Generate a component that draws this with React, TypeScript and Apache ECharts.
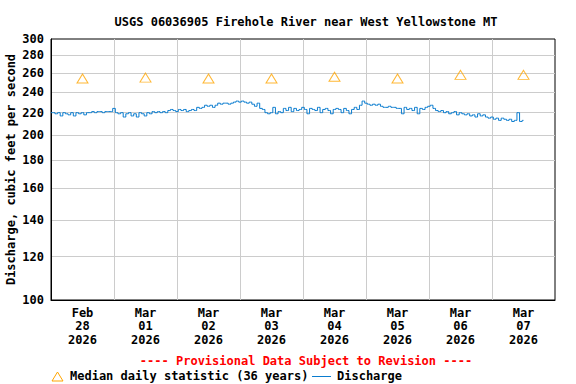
import React, { useEffect, useRef } from "react";
import * as echarts from "echarts";

const TITLE = "USGS 06036905 Firehole River near West Yellowstone MT";
const Y_NAME = "Discharge, cubic feet per second";
const PROVISIONAL = "---- Provisional Data Subject to Revision ----";
const LEGEND_MEDIAN = "Median daily statistic (36 years)";
const LEGEND_DISCHARGE = "Discharge";

const dayLabels = [
  "Feb\n28\n2026",
  "Mar\n01\n2026",
  "Mar\n02\n2026",
  "Mar\n03\n2026",
  "Mar\n04\n2026",
  "Mar\n05\n2026",
  "Mar\n06\n2026",
  "Mar\n07\n2026",
];

// median daily statistic, one per day (cfs)
const medianValues = [254, 255, 254, 254, 256, 254, 258, 258];

// hourly discharge from Feb 28 00:00 (cfs)
const discharge = [
  220, 220, 219, 220, 217, 220, 219, 218, 220, 217, 220, 219, 220, 218, 220, 220, 221, 220, 221, 221, 220, 221, 221, 221,
  224, 220, 219, 220, 216, 219, 220, 217, 219, 216, 220, 219, 217, 220, 219, 221, 220, 221, 220, 221, 220, 222, 223, 222,
  221, 223, 222, 223, 221, 222, 223, 222, 225, 224, 225, 227, 226, 227, 225, 227, 229, 228, 229, 229, 228, 229, 230, 231,
  230, 231, 230, 229, 230, 228, 226, 229, 224, 223, 220, 219, 220, 225, 219, 221, 220, 224, 222, 225, 221, 224, 222, 223,
  225, 223, 219, 224, 223, 222, 225, 220, 223, 224, 222, 219, 223, 224, 223, 220, 224, 222, 219, 223, 225, 223, 227, 231,
  229, 228, 227, 228, 227, 228, 226, 225, 225, 226, 225, 225, 224, 224, 219, 225, 223, 224, 222, 225, 219, 224, 223, 225,
  226, 227, 224, 222, 221, 222, 220, 221, 219, 220, 221, 218, 220, 219, 218, 219, 217, 218, 216, 219, 217, 218, 216, 215,
  216, 214, 215, 213, 215, 214, 213, 214, 212, 213, 220, 212, 213,
];

const yTicks = [100, 120, 140, 160, 180, 200, 220, 240, 260, 280, 300];
const HOURS_PER_DAY = 24;

const FONT = "'DejaVu Sans Mono', monospace";
const GRID_COLOR = "#cccccc";
const LINE_COLOR = "#0a7ccf";
const MEDIAN_COLOR = "#ffa500";

export default function App() {
  const ref = useRef<HTMLDivElement>(null);

  useEffect(() => {
    if (!ref.current) return;
    const chart = echarts.init(ref.current, undefined, { renderer: "svg" });
    const textStyle = { fontFamily: FONT, fontWeight: "bold" as const, fontSize: 12, color: "#000" };
    const nDays = dayLabels.length;

    chart.setOption({
      animation: false,
      backgroundColor: "#fff",
      grid: {
        left: 51,
        right: 21,
        top: 39,
        bottom: 84,
        containLabel: false,
        outerBoundsMode: "none",
        show: true,
        borderColor: "#000",
        borderWidth: 1,
        backgroundColor: "transparent",
      },
      xAxis: [
        {
          type: "value",
          min: 0,
          max: nDays * HOURS_PER_DAY,
          interval: HOURS_PER_DAY,
          axisLabel: { show: false },
          axisTick: { show: false },
          axisLine: { show: true, lineStyle: { color: "#000", width: 1 } },
          splitLine: { show: true, showMinLine: false, showMaxLine: false, lineStyle: { color: GRID_COLOR, width: 1 } },
        },
        {
          type: "category",
          data: dayLabels,
          boundaryGap: true,
          position: "bottom",
          axisLine: { show: false },
          axisTick: { show: false },
          splitLine: { show: false },
          axisLabel: { ...textStyle, margin: 6, lineHeight: 13.5, interval: 0 },
        },
      ],
      yAxis: {
        type: "value",
        min: Math.log10(yTicks[0]),
        max: Math.log10(yTicks[yTicks.length - 1]),
        name: Y_NAME,
        nameLocation: "middle",
        nameGap: 34,
        nameMoveOverlap: false,
        nameTextStyle: { ...textStyle },
        axisLine: { show: true, lineStyle: { color: "#000", width: 1 } },
        axisTick: { show: false, customValues: yTicks.map((t) => Math.log10(t)) },
        axisLabel: {
          ...textStyle,
          margin: 7,
          customValues: yTicks.map((t) => Math.log10(t)),
          formatter: (v: number) => String(Math.round(Math.pow(10, v))),
        },
        splitLine: { show: true, showMinLine: false, showMaxLine: false, lineStyle: { color: GRID_COLOR, width: 1 } },
      },
      series: [
        {
          name: LEGEND_DISCHARGE,
          type: "line",
          xAxisIndex: 0,
          data: discharge.map((v, i) => [i, Math.log10(v)]),
          step: "middle",
          showSymbol: false,
          symbol: "none",
          lineStyle: { color: LINE_COLOR, width: 1 },
          silent: true,
        },
        {
          name: LEGEND_MEDIAN,
          type: "scatter",
          xAxisIndex: 1,
          data: medianValues.map((v, i) => [i, Math.log10(v)]),
          symbol: "triangle",
          symbolSize: [11, 9],
          itemStyle: { color: "rgba(0,0,0,0)", borderColor: MEDIAN_COLOR, borderWidth: 1 },
          silent: true,
        },
      ],
      graphic: [
        {
          type: "text",
          x: 306,
          y: 22,
          style: { text: TITLE, font: `bold 12px ${FONT}`, fill: "#000", align: "center", verticalAlign: "middle" },
        },
        {
          type: "text",
          x: 306,
          y: 361,
          style: { text: PROVISIONAL, font: `bold 12px ${FONT}`, fill: "#ff0000", align: "center", verticalAlign: "middle" },
        },
        {
          type: "polygon",
          shape: { points: [[57.5, 372], [63, 381], [52, 381]] },
          style: { fill: "none", stroke: MEDIAN_COLOR, lineWidth: 1 },
        },
        {
          type: "text",
          x: 70,
          y: 376,
          style: { text: LEGEND_MEDIAN, font: `bold 12px ${FONT}`, fill: "#000", align: "left", verticalAlign: "middle" },
        },
        {
          type: "line",
          shape: { x1: 312, y1: 376.5, x2: 331, y2: 376.5 },
          style: { stroke: LINE_COLOR, lineWidth: 1 },
        },
        {
          type: "text",
          x: 337,
          y: 376,
          style: { text: LEGEND_DISCHARGE, font: `bold 12px ${FONT}`, fill: "#000", align: "left", verticalAlign: "middle" },
        },
      ],
    });

    return () => chart.dispose();
  }, []);

  return (
    <div
      ref={ref}
      style={{ position: "fixed", left: 0, top: 0, width: 576, height: 384 }}
    />
  );
}
